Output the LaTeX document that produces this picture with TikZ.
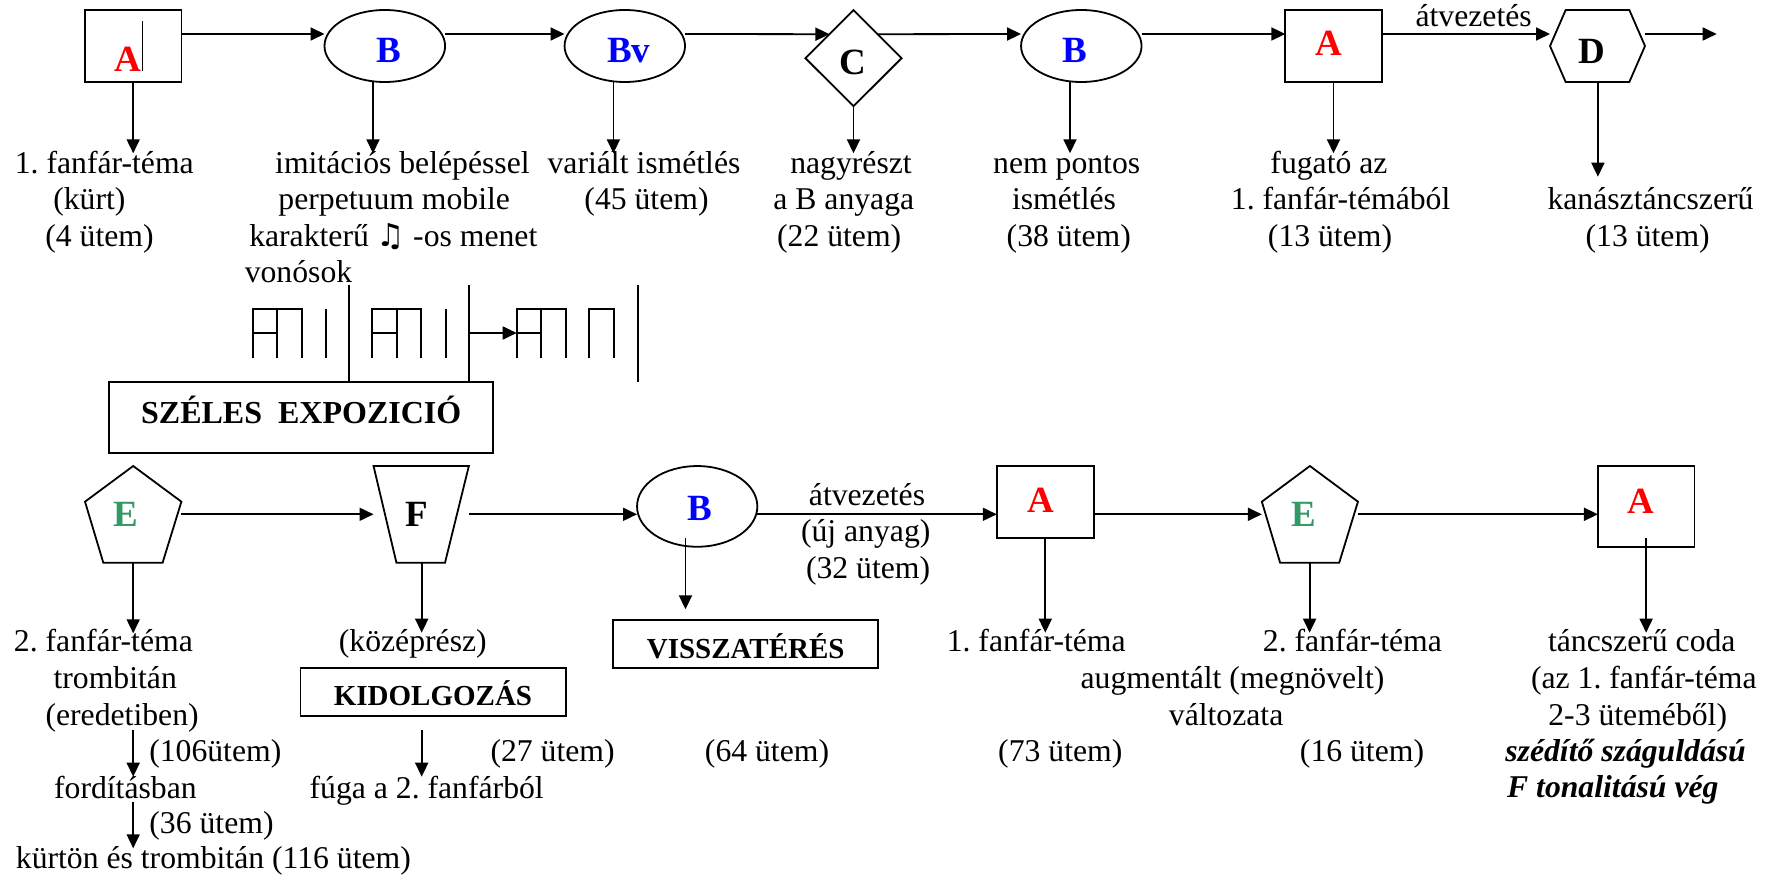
\documentclass[tikz,border=0pt]{standalone}
\usepackage{fontspec}
\setmainfont{Liberation Serif}
\newfontfamily\notesym{DejaVu Sans}
\usetikzlibrary{arrows.meta,calc,shapes.geometric}
\definecolor{lblred}{RGB}{255,0,0}
\definecolor{lblblue}{RGB}{0,0,255}
\definecolor{lblgreen}{RGB}{51,153,102}
\newcommand{\fsnormal}{\fontsize{31.7pt}{36.5pt}\selectfont}
\newcommand{\fslabel}{\fontsize{37pt}{42pt}\selectfont\bfseries}
\newcommand{\fsboxb}{\fontsize{29pt}{34pt}\selectfont\bfseries}
\newcommand{\fsboxa}{\fontsize{32pt}{36pt}\selectfont\bfseries}
\frenchspacing
\begin{document}
\begin{tikzpicture}[x=1pt,y=-1pt,
  txt/.style={anchor=base,inner sep=0pt,font=\fsnormal},
  bi/.style={anchor=base,inner sep=0pt,font=\fsnormal\bfseries\itshape},
  lbl/.style={anchor=base,inner sep=0pt,font=\fslabel},
  ln/.style={line width=1.8pt},
  arr/.style={ln,-{Triangle[length=14pt,width=13pt]}},
  shp/.style={inner sep=0pt,outer sep=0pt},
  box/.style={shp,draw,ln},
]
\path[fill=white] (0,0) rectangle (1765,878);
\useasboundingbox (0,0) rectangle (1765,878);

% ---------- top row shapes ----------
\node[box,rectangle,minimum width=96.4pt,minimum height=72pt] (A1) at (133.2,46) {};
\node[box,ellipse,minimum width=120.6pt,minimum height=72pt] (B1) at (384.8,46) {};
\node[box,ellipse,minimum width=120.5pt,minimum height=72pt] (Bv) at (624.8,46) {};
\node[box,diamond,minimum width=96.1pt,minimum height=96pt] (C) at (853.5,58.2) {};
\node[box,ellipse,minimum width=120.5pt,minimum height=72pt] (B2) at (1081.3,46) {};
\node[box,rectangle,minimum width=96.9pt,minimum height=72pt] (A2) at (1333.8,46) {};
\node[shp,rectangle,minimum width=95pt,minimum height=72pt] (D) at (1597.5,46) {};
\draw[ln] ($(D.north west)!0.165!(D.north east)$) -- ($(D.north west)!0.835!(D.north east)$) -- (D.east)
  -- ($(D.south west)!0.835!(D.south east)$) -- ($(D.south west)!0.165!(D.south east)$) -- (D.west) -- cycle;

\node[lbl,text=lblred] (A1l) at (128.2,71) {A};
\draw[line width=1pt] (142.4,21) -- (142.4,71);
\node[lbl,text=lblblue] (B1l) at (388.5,62.7) {B};
\node[lbl,text=lblblue] (Bvl) at (628.8,62.7) {Bv};
\node[lbl] (Cl) at (852.5,74) {C};
\node[lbl,text=lblblue] (B2l) at (1075.3,62.7) {B};
\node[lbl,text=lblred] (A2l) at (1328.9,55) {A};
\node[lbl] (Dl) at (1592.3,63.3) {D};

% top row connectors
\coordinate (r1) at (0,34);
\draw[arr] (A1.east |- r1) -- (B1.west |- r1);
\draw[arr] (B1.east |- r1) -- (Bv.west |- r1);
\draw[arr] (Bv.east |- r1) -- (C.north west);
\draw[arr] (C.north east) -- (B2.west |- r1);
\draw[arr] (B2.east |- r1) -- (A2.west |- r1);
\draw[arr] (A2.east |- r1) -- (D.west |- r1);
\node[txt] (atv1) at (1473.6,26) {átvezetés};
\coordinate (Dout) at (1716.7,34);
\draw[arr] (D.east |- r1) -- (Dout);

\coordinate (dA1) at (133.2,153.3);
\draw[arr] (A1.south) -- (dA1);
\coordinate (dB1) at (373,153.3);
\draw[arr] (B1.south -| dB1) -- (dB1);
\coordinate (dBv) at (613.4,153.3);
\draw[arr] (Bv.south -| dBv) -- (dBv);
\coordinate (dC) at (853.5,153.3);
\draw[arr] (C.south) -- (dC);
\coordinate (dB2) at (1070,153.3);
\draw[arr] (B2.south -| dB2) -- (dB2);
\coordinate (dA2) at (1333.5,153.3);
\draw[arr] (A2.south -| dA2) -- (dA2);
\coordinate (dD) at (1597.9,176.7);
\draw[arr] (D.south -| dD) -- (dD);

% top texts
\node[txt] (t1) at (104.3,173.3) {1. fanfár-téma};
\node[txt] (t2) at (89.4,209.8) {(kürt)};
\node[txt] (t3) at (99.5,246.3) {(4 ütem)};
\node[txt] (t4) at (402.4,173.3) {imitációs belépéssel};
\node[txt] (t5) at (394.2,209.8) {perpetuum mobile};
\node[txt] (t6) at (393.3,246.3) {karakterű {\notesym ♫} -os menet};
\node[txt] (t7) at (298.5,282.8) {vonósok};
\node[txt] (t8) at (644,173.3) {variált ismétlés};
\node[txt] (t9) at (646.5,209.8) {(45 ütem)};
\node[txt] (t10) at (851,173.3) {nagyrészt};
\node[txt] (t11) at (843.8,209.8) {a B anyaga};
\node[txt] (t12) at (839.2,246.3) {(22 ütem)};
\node[txt] (t13) at (1066.7,173.3) {nem pontos};
\node[txt] (t14) at (1064,209.8) {ismétlés};
\node[txt] (t15) at (1068.8,246.3) {(38 ütem)};
\node[txt] (t16) at (1329,173.3) {fugató az};
\node[txt] (t17) at (1340.6,209.8) {1. fanfár-témából};
\node[txt] (t18) at (1330,246.3) {(13 ütem)};
\node[txt] (t19) at (1650.5,209.8) {kanásztáncszerű};
\node[txt] (t20) at (1647.7,246.3) {(13 ütem)};

% ---------- exposition box and rhythm ----------
\node[box,rectangle,minimum width=384.3pt,minimum height=71pt,font=\fsboxa,
      text height=22pt,text depth=9.8pt,anchor=base] (exp) at (301.2,423.3) {SZÉLES\ \ EXPOZICIÓ};
\coordinate (v1) at (349,285);
\coordinate (v2) at (469,285);
\coordinate (v3) at (638,285);
\draw[ln] (v1) -- (exp.north -| v1);
\draw[ln] (v2) -- (exp.north -| v2);
\draw[ln] (v3) -- (638,382);
\coordinate (rh) at (516.7,333);
\draw[arr] (v2 |- rh) -- (rh);
\foreach \g in {252.7,372.3,516.7} {
  \draw[ln] (\g,358) -- (\g,309) -- (\g+49,309) -- (\g+49,358);
  \draw[ln] (\g+24.5,309) -- (\g+24.5,358);
  \draw[ln] (\g,333) -- (\g+24.5,333);
}
\draw[ln] (325.7,309) -- (325.7,358);
\draw[ln] (446,309) -- (446,358);
\draw[ln] (589,358) -- (589,309) -- (614,309) -- (614,358);

% ---------- bottom row shapes ----------
\node[shp,minimum width=96.4pt,minimum height=96.7pt] (E1) at (133.2,514.35) {};
\draw[ln] (E1.north) -- ($(E1.north east)!0.369!(E1.south east)$) -- ($(E1.south west)!0.805!(E1.south east)$)
  -- ($(E1.south west)!0.19!(E1.south east)$) -- ($(E1.north west)!0.369!(E1.south west)$) -- cycle;
\node[shp,minimum width=95.3pt,minimum height=96.7pt] (F) at (421.2,514.35) {};
\draw[ln] (F.north west) -- (F.north east) -- ($(F.south west)!0.75!(F.south east)$)
  -- ($(F.south west)!0.24!(F.south east)$) -- cycle;
\node[box,ellipse,minimum width=120.3pt,minimum height=80.7pt] (B3) at (697.2,506.4) {};
\node[box,rectangle,minimum width=97pt,minimum height=72.3pt] (A3) at (1045.3,502.2) {};
\node[shp,minimum width=96.1pt,minimum height=96.7pt] (E2) at (1309.9,514.35) {};
\draw[ln] (E2.north) -- ($(E2.north east)!0.369!(E2.south east)$) -- ($(E2.south west)!0.805!(E2.south east)$)
  -- ($(E2.south west)!0.19!(E2.south east)$) -- ($(E2.north west)!0.369!(E2.south west)$) -- cycle;
\node[box,rectangle,minimum width=96.5pt,minimum height=80.7pt] (A4) at (1646.2,506.4) {};

\node[lbl,text=lblgreen] (E1l) at (126.3,526) {E};
\node[lbl] (Fl) at (416.6,526.7) {F};
\node[lbl,text=lblblue] (B3l) at (700.3,520) {B};
\node[lbl,text=lblred] (A3l) at (1040.6,512.7) {A};
\node[lbl,text=lblgreen] (E2l) at (1303.6,526) {E};
\node[lbl,text=lblred] (A4l) at (1640.5,513.3) {A};

% bottom row connectors
\coordinate (r2) at (0,514.3);
\draw[arr] (E1.east |- r2) -- (F.west |- r2);
\draw[arr] (F.east |- r2) -- (B3.west |- r2);
\draw[arr] (B3.east |- r2) -- (A3.west |- r2);
\draw[arr] (A3.east |- r2) -- (E2.west |- r2);
\draw[arr] (E2.east |- r2) -- (A4.west |- r2);
\node[txt] (atv2) at (867,505) {átvezetés};
\node[txt] (uj) at (865.7,541.7) {(új anyag)};
\node[txt] (u32) at (868.1,578.3) {(32 ütem)};

\coordinate (dE1) at (133.2,633.3);
\draw[arr] (E1.south -| dE1) -- (dE1);
\coordinate (dF) at (421.7,632.7);
\draw[arr] (F.south -| dF) -- (dF);
\coordinate (dB3) at (685.5,609.3);
\draw[arr] ($(B3.south -| dB3)+(0,-8.4)$) -- (dB3);
\coordinate (dA3) at (1045.3,632.7);
\draw[arr] (A3.south) -- (dA3);
\coordinate (dE2) at (1309.6,632.7);
\draw[arr] (E2.south -| dE2) -- (dE2);
\coordinate (dA4) at (1646.1,632.7);
\draw[arr] ($(A4.south -| dA4)+(0,-8.4)$) -- (dA4);

% boxes
\node[box,rectangle,minimum width=265.2pt,minimum height=47.7pt,font=\fsboxb,
      text height=25.6pt,text depth=0pt,anchor=base] (kid) at (433,705) {KIDOLGOZÁS};
\node[box,rectangle,minimum width=265.3pt,minimum height=48.3pt,font=\fsboxb,
      text height=28.2pt,text depth=0pt,anchor=base] (vis) at (745.7,658.3) {VISSZATÉRÉS};

% bottom texts
\node[txt] (b1) at (103.4,651.7) {2. fanfár-téma};
\node[txt] (b2) at (115.2,688.3) {trombitán};
\node[txt] (b3) at (122.1,725) {(eredetiben)};
\node[txt] (b4) at (215.3,761.7) {(106ütem)};
\node[txt] (b5) at (125.4,798.3) {fordításban};
\node[txt] (b6) at (211.5,833.3) {(36 ütem)};
\node[txt] (b7) at (213.4,868.3) {kürtön és trombitán (116 ütem)};
\coordinate (e1a) at (133.2,730);
\coordinate (e1b) at (133.2,776.7);
\draw[arr] (e1a) -- (e1b);
\coordinate (e2a) at (133.2,801.7);
\coordinate (e2b) at (133.2,848.3);
\draw[arr] (e2a) -- (e2b);

\node[txt] (b8) at (412.8,651.7) {(középrész)};
\node[txt] (b9) at (426.7,798.3) {fúga a 2. fanfárból};
\coordinate (k1) at (421.7,730);
\coordinate (k2) at (421.7,776.7);
\draw[arr] (k1) -- (k2);
\node[txt] (b10) at (552.6,761.7) {(27 ütem)};
\node[txt] (b11) at (767,761.7) {(64 ütem)};

\node[txt] (b12) at (1036.2,651.7) {1. fanfár-téma};
\node[txt] (b13) at (1232.5,688.3) {augmentált (megnövelt)};
\node[txt] (b14) at (1226.1,725) {változata};
\node[txt] (b15) at (1060.3,761.7) {(73 ütem)};
\node[txt] (b16) at (1352.4,651.7) {2. fanfár-téma};
\node[txt] (b17) at (1362,761.7) {(16 ütem)};

\node[txt] (b18) at (1641.8,651.7) {táncszerű coda};
\node[txt] (b19) at (1643.8,688.3) {(az 1. fanfár-téma};
\node[txt] (b20) at (1637.7,725) {2-3 üteméből)};
\node[bi] (b21) at (1625.6,761.7) {szédítő száguldású};
\node[bi] (b22) at (1612.8,797.5) {F tonalitású vég};
\end{tikzpicture}
\end{document}
